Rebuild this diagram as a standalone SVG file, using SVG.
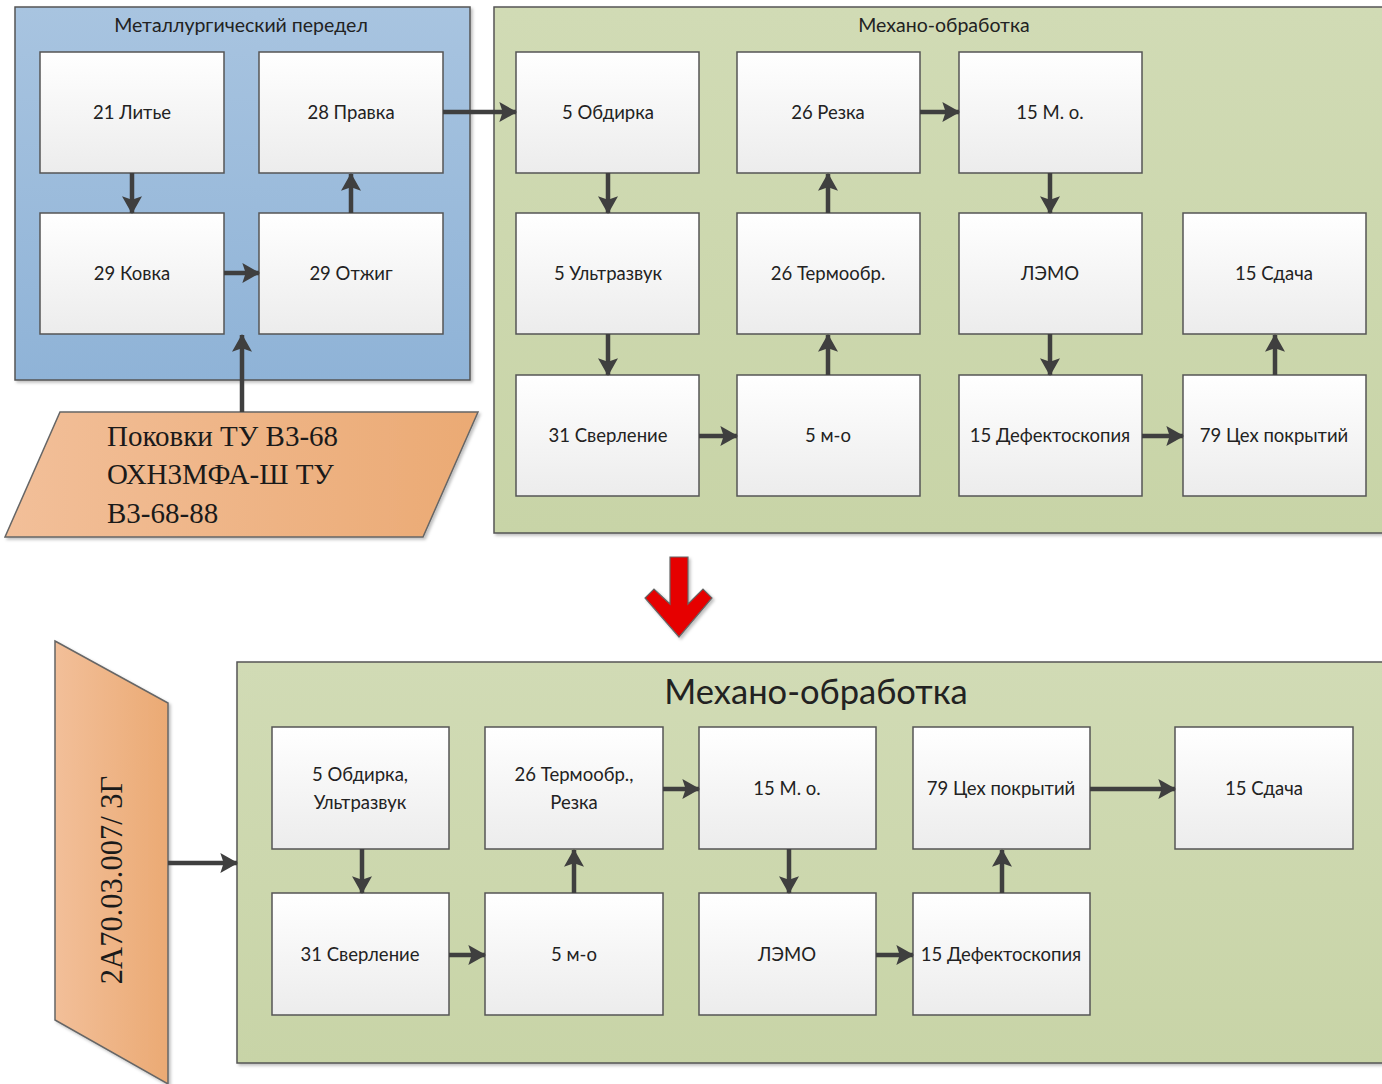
<svg xmlns="http://www.w3.org/2000/svg" width="1382" height="1084" viewBox="0 0 1382 1084">
  <defs>
    <linearGradient id="gBlue" x1="0" y1="0" x2="0" y2="1">
      <stop offset="0" stop-color="#a8c4e0"/>
      <stop offset="1" stop-color="#8fb3d7"/>
    </linearGradient>
    <linearGradient id="gGreen" x1="0" y1="0" x2="0" y2="1">
      <stop offset="0" stop-color="#d1dbb5"/>
      <stop offset="1" stop-color="#c8d4a7"/>
    </linearGradient>
    <linearGradient id="gBox" x1="0" y1="0" x2="0" y2="1">
      <stop offset="0" stop-color="#ffffff"/>
      <stop offset="1" stop-color="#ececec"/>
    </linearGradient>
    <linearGradient id="gOrange" x1="0" y1="0" x2="1" y2="0">
      <stop offset="0" stop-color="#f2bf99"/>
      <stop offset="1" stop-color="#ebaa74"/>
    </linearGradient>
    <filter id="shadow" x="-5%" y="-5%" width="115%" height="115%">
      <feDropShadow dx="2" dy="2" stdDeviation="1.5" flood-color="#000" flood-opacity="0.25"/>
    </filter>
    <marker id="arrow" markerUnits="userSpaceOnUse" markerWidth="20" markerHeight="20" viewBox="0 0 16 18" refX="15" refY="9" orient="auto">
      <path d="M0,0 L16,9 L0,18 L3,9 Z" fill="#3f3f3f"/>
    </marker>
  </defs>
  <style>
    .box { fill: url(#gBox); stroke: #555; stroke-width: 1.5; }
    .lbl { font-family: Lato, "Open Sans", "Liberation Sans", sans-serif; font-size: 18.5px; fill: #222; text-anchor: middle; dominant-baseline: central; }
    .title { font-family: Lato, "Open Sans", "Liberation Sans", sans-serif; fill: #222; text-anchor: middle; }
    .serif { font-family: "Liberation Serif", "DejaVu Serif", serif; fill: #1a1a1a; }
    .conn { stroke: #3f3f3f; stroke-width: 4.5; fill: none; marker-end: url(#arrow); }
  </style>
  <rect width="1382" height="1084" fill="#ffffff"/>

  <!-- containers -->
  <g id="metal-stage">
    <rect x="15" y="7" width="455" height="373" fill="url(#gBlue)" stroke="#555" stroke-width="1.5" filter="url(#shadow)"/>
    <text class="title" x="241" y="32" font-size="19.5">Металлургический передел</text>
  </g>
  <g id="machining-top">
    <rect x="494" y="7" width="892" height="526" fill="url(#gGreen)" stroke="#555" stroke-width="1.5" filter="url(#shadow)"/>
    <text class="title" x="944" y="32" font-size="19.5">Механо-обработка</text>
  </g>
  <g id="machining-bottom">
    <rect x="237" y="662" width="1149" height="401" fill="url(#gGreen)" stroke="#555" stroke-width="1.5" filter="url(#shadow)"/>
    <text class="title" x="816" y="704" font-size="34.5">Механо-обработка</text>
  </g>

  <!-- input materials -->
  <g id="forgings">
    <polygon points="60,412 478,412 423,537 5,537" fill="url(#gOrange)" stroke="#666" stroke-width="1.5" filter="url(#shadow)"/>
    <text class="serif" font-size="29" x="107" y="446">Поковки ТУ В3-68</text>
    <text class="serif" font-size="29" x="107" y="484">ОХН3МФА-Ш ТУ</text>
    <text class="serif" font-size="29" x="107" y="523">В3-68-88</text>
  </g>
  <g id="blank">
    <polygon points="55,641 168,703 168,1084 55,1020" fill="url(#gOrange)" stroke="#666" stroke-width="1.5" filter="url(#shadow)"/>
    <text class="serif" font-size="30.5" text-anchor="middle" transform="translate(122,880) rotate(-90)">2А70.03.007/ 3Г</text>
  </g>

  <!-- transition arrow -->
  <g id="transition">
    <path d="M670,557 L688,557 L688,604 L703,589 L712,598 L679,637 L645,598 L654,589 L670,604 Z" fill="#e60000" stroke="#666" stroke-width="1.2" filter="url(#shadow)"/>
  </g>

  <!-- metallurgical stage nodes -->
  <g id="n-lite"><rect class="box" x="40" y="52" width="184" height="121"/><text class="lbl" x="132" y="112">21 Литье</text></g>
  <g id="n-pravka"><rect class="box" x="259" y="52" width="184" height="121"/><text class="lbl" x="351" y="112">28 Правка</text></g>
  <g id="n-kovka"><rect class="box" x="40" y="213" width="184" height="121"/><text class="lbl" x="132" y="273">29 Ковка</text></g>
  <g id="n-otzhig"><rect class="box" x="259" y="213" width="184" height="121"/><text class="lbl" x="351" y="273">29 Отжиг</text></g>

  <!-- machining nodes, top -->
  <g id="t-obdirka"><rect class="box" x="516" y="52" width="183" height="121"/><text class="lbl" x="608" y="112">5 Обдирка</text></g>
  <g id="t-rezka"><rect class="box" x="737" y="52" width="183" height="121"/><text class="lbl" x="828" y="112">26 Резка</text></g>
  <g id="t-mo15"><rect class="box" x="959" y="52" width="183" height="121"/><text class="lbl" x="1050" y="112">15 М. о.</text></g>
  <g id="t-uz"><rect class="box" x="516" y="213" width="183" height="121"/><text class="lbl" x="608" y="273">5 Ультразвук</text></g>
  <g id="t-termo"><rect class="box" x="737" y="213" width="183" height="121"/><text class="lbl" x="828" y="273">26 Термообр.</text></g>
  <g id="t-lemo"><rect class="box" x="959" y="213" width="183" height="121"/><text class="lbl" x="1050" y="273">ЛЭМО</text></g>
  <g id="t-sdacha"><rect class="box" x="1183" y="213" width="183" height="121"/><text class="lbl" x="1274" y="273">15 Сдача</text></g>
  <g id="t-sverl"><rect class="box" x="516" y="375" width="183" height="121"/><text class="lbl" x="608" y="435">31 Сверление</text></g>
  <g id="t-mo5"><rect class="box" x="737" y="375" width="183" height="121"/><text class="lbl" x="828" y="435">5 м-о</text></g>
  <g id="t-defekt"><rect class="box" x="959" y="375" width="183" height="121"/><text class="lbl" x="1050" y="435">15 Дефектоскопия</text></g>
  <g id="t-pokr"><rect class="box" x="1183" y="375" width="183" height="121"/><text class="lbl" x="1274" y="435">79 Цех покрытий</text></g>

  <!-- machining nodes, bottom -->
  <g id="b-obdirka"><rect class="box" x="272" y="727" width="177" height="122"/><text class="lbl" x="360" y="774">5 Обдирка,</text><text class="lbl" x="360" y="802">Ультразвук</text></g>
  <g id="b-termo"><rect class="box" x="485" y="727" width="178" height="122"/><text class="lbl" x="574" y="774">26 Термообр.,</text><text class="lbl" x="574" y="802">Резка</text></g>
  <g id="b-mo15"><rect class="box" x="699" y="727" width="177" height="122"/><text class="lbl" x="787" y="788">15 М. о.</text></g>
  <g id="b-pokr"><rect class="box" x="913" y="727" width="177" height="122"/><text class="lbl" x="1001" y="788">79 Цех покрытий</text></g>
  <g id="b-sdacha"><rect class="box" x="1175" y="727" width="178" height="122"/><text class="lbl" x="1264" y="788">15 Сдача</text></g>
  <g id="b-sverl"><rect class="box" x="272" y="893" width="177" height="122"/><text class="lbl" x="360" y="954">31 Сверление</text></g>
  <g id="b-mo5"><rect class="box" x="485" y="893" width="178" height="122"/><text class="lbl" x="574" y="954">5 м-о</text></g>
  <g id="b-lemo"><rect class="box" x="699" y="893" width="177" height="122"/><text class="lbl" x="787" y="954">ЛЭМО</text></g>
  <g id="b-defekt"><rect class="box" x="913" y="893" width="177" height="122"/><text class="lbl" x="1001" y="954">15 Дефектоскопия</text></g>

  <!-- connectors -->
  <g id="connectors">
    <line class="conn" x1="132" y1="173" x2="132" y2="213"/>
    <line class="conn" x1="224" y1="273" x2="259" y2="273"/>
    <line class="conn" x1="351" y1="213" x2="351" y2="174"/>
    <line class="conn" x1="443" y1="112" x2="516" y2="112"/>
    <line class="conn" x1="242" y1="412" x2="242" y2="335"/>
    <line class="conn" x1="608" y1="173" x2="608" y2="213"/>
    <line class="conn" x1="608" y1="334" x2="608" y2="375"/>
    <line class="conn" x1="699" y1="436" x2="737" y2="436"/>
    <line class="conn" x1="828" y1="375" x2="828" y2="335"/>
    <line class="conn" x1="828" y1="213" x2="828" y2="174"/>
    <line class="conn" x1="920" y1="112" x2="959" y2="112"/>
    <line class="conn" x1="1050" y1="173" x2="1050" y2="213"/>
    <line class="conn" x1="1050" y1="334" x2="1050" y2="375"/>
    <line class="conn" x1="1142" y1="436" x2="1183" y2="436"/>
    <line class="conn" x1="1275" y1="375" x2="1275" y2="335"/>

    <line class="conn" x1="168" y1="863" x2="237" y2="863"/>
    <line class="conn" x1="362" y1="849" x2="362" y2="893"/>
    <line class="conn" x1="449" y1="955" x2="485" y2="955"/>
    <line class="conn" x1="574" y1="893" x2="574" y2="850"/>
    <line class="conn" x1="663" y1="789" x2="699" y2="789"/>
    <line class="conn" x1="789" y1="849" x2="789" y2="893"/>
    <line class="conn" x1="876" y1="955" x2="913" y2="955"/>
    <line class="conn" x1="1002" y1="893" x2="1002" y2="850"/>
    <line class="conn" x1="1090" y1="789" x2="1175" y2="789"/>
  </g>
</svg>
